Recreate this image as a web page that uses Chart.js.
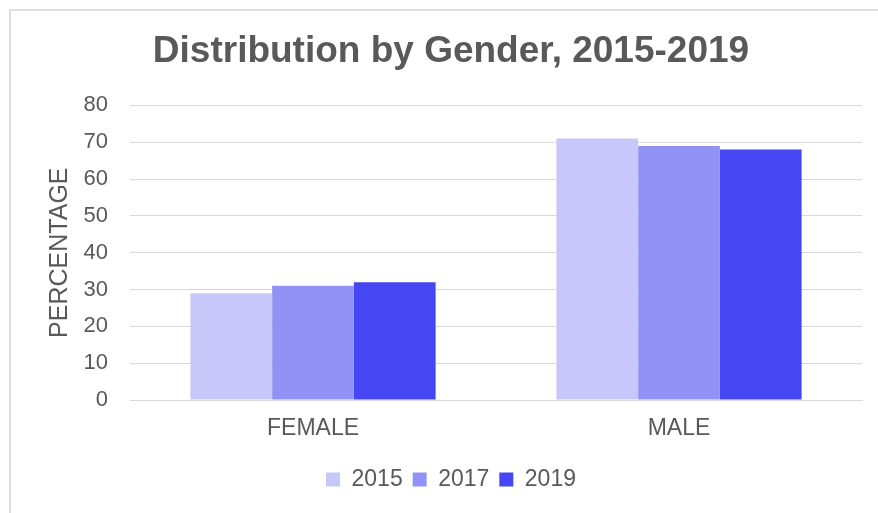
<!DOCTYPE html>
<html>
<head>
<meta charset="utf-8">
<script src="https://cdn.jsdelivr.net/npm/chart.js@4"></script>
<style>
  html, body { margin: 0; padding: 0; background: #ffffff; overflow: hidden; width: 878px; height: 513px; }
  #frame { position: absolute; left: 9px; top: 9px; width: 1000px; height: 1000px; border: 2px solid #e0e0e0; box-sizing: border-box; }
  #wrap { position: absolute; left: 0; top: 0; width: 900px; height: 513px; }
</style>
</head>
<body>
<div id="frame"></div>
<div id="wrap"><canvas id="c" width="900" height="513"></canvas></div>
<script>
const categories = ['FEMALE', 'MALE'];
const seriesNames = ['2015', '2017', '2019'];
const values2015 = [29, 71];
const values2017 = [31, 69];
const values2019 = [32, 68];
const yTicks = [0, 10, 20, 30, 40, 50, 60, 70, 80];
const colors = ['#C7C7FA', '#9292F6', '#4646F3'];

const textColor = '#595959';
const gridColor = '#d9d9d9';
const fontFamily = '"Liberation Sans", Arial, sans-serif';

const seriesValues = [values2015, values2017, values2019];

new Chart(document.getElementById('c'), {
  type: 'bar',
  data: {
    labels: categories,
    datasets: seriesNames.map((name, i) => ({
      label: name,
      data: seriesValues[i],
      backgroundColor: colors[i],
      borderWidth: 0,
      barPercentage: 1.0,
      categoryPercentage: 0.67
    }))
  },
  options: {
    responsive: false,
    animation: false,
    devicePixelRatio: 1,
    layout: { padding: { left: 40, right: 38, top: 0, bottom: 12 } },
    plugins: {
      title: {
        display: true,
        text: 'Distribution by Gender, 2015-2019',
        color: textColor,
        font: { family: fontFamily, size: 37, weight: 'bold' },
        padding: { top: 30, bottom: 31 }
      },
      legend: {
        display: true,
        position: 'bottom',
        labels: {
          color: textColor,
          font: { family: fontFamily, size: 23 },
          boxWidth: 14,
          boxHeight: 14,
          padding: 10
        }
      },
      tooltip: { enabled: false }
    },
    scales: {
      x: {
        grid: { display: false, drawTicks: false },
        border: { display: true, color: gridColor, width: 1 },
        ticks: {
          color: textColor,
          font: { family: fontFamily, size: 23 },
          padding: 15
        },
        afterFit: (scale) => { scale.height = 58; }
      },
      y: {
        min: 0,
        max: 80,
        afterBuildTicks: (scale) => { scale.ticks = yTicks.map(v => ({ value: v })); },
        grid: { color: gridColor, lineWidth: 1, drawTicks: false },
        border: { display: false },
        ticks: {
          color: textColor,
          font: { family: fontFamily, size: 22 },
          padding: 22
        },
        title: {
          display: true,
          text: 'PERCENTAGE',
          color: textColor,
          font: { family: fontFamily, size: 25 },
          padding: { top: 5, bottom: 0 }
        },
        afterFit: (scale) => { scale.width = 90; }
      }
    }
  }
});
</script>
</body>
</html>
